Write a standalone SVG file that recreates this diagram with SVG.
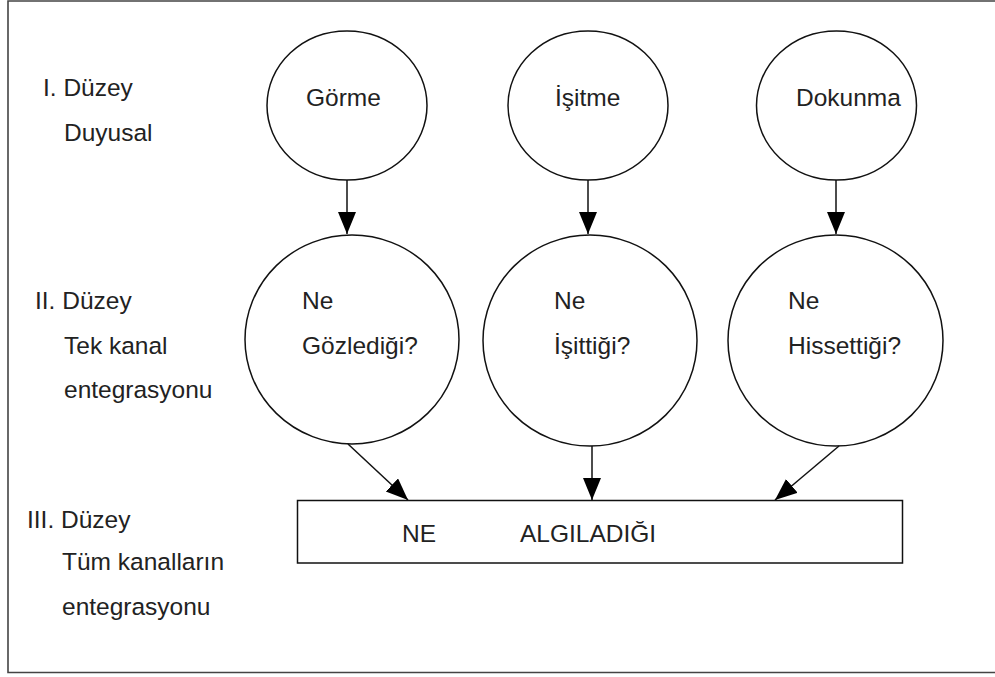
<svg xmlns="http://www.w3.org/2000/svg" width="995" height="677" viewBox="0 0 995 677">
  <style>
    .frame { fill: none; stroke: #444; stroke-width: 1.6; }
    .node { fill: #fff; stroke: #111; stroke-width: 1.5; }
    .edge { fill: none; stroke: #111; stroke-width: 1.5; }
    text { font-family: "Liberation Sans", Arial, sans-serif; font-size: 24.5px; fill: #222; }
  </style>
  <defs>
    <marker id="arrow" markerUnits="userSpaceOnUse" markerWidth="24" markerHeight="20" refX="22" refY="9" orient="auto">
      <path d="M0,0 L22,9 L0,18 Z" fill="#000"/>
    </marker>
  </defs>

  <rect width="995" height="677" fill="#fff"/>
  <!-- outer frame (open on the right) -->
  <path class="frame" d="M1000,1 H8 V672.5 H1000"/>

  <!-- level labels -->
  <g id="levels">
    <text x="43" y="96">I. Düzey</text>
    <text x="64" y="141">Duyusal</text>
    <text x="35" y="309">II. Düzey</text>
    <text x="64" y="354">Tek kanal</text>
    <text x="64" y="398">entegrasyonu</text>
    <text x="27" y="528">III. Düzey</text>
    <text x="62" y="570">Tüm kanalların</text>
    <text x="62" y="615">entegrasyonu</text>
  </g>

  <!-- level I: senses -->
  <g id="gorme">
    <ellipse class="node" cx="347" cy="105.5" rx="80" ry="74.5"/>
    <text x="306" y="106">Görme</text>
  </g>
  <g id="isitme">
    <ellipse class="node" cx="588" cy="105.5" rx="80" ry="74.5"/>
    <text x="555" y="106">İşitme</text>
  </g>
  <g id="dokunma">
    <ellipse class="node" cx="836.5" cy="105.5" rx="80" ry="74.5"/>
    <text x="796" y="106">Dokunma</text>
  </g>

  <!-- level II: single-channel integration -->
  <g id="gozledigi">
    <ellipse class="node" cx="352" cy="339.5" rx="107" ry="104.5"/>
    <text x="302" y="309">Ne</text>
    <text x="302" y="354">Gözlediği?</text>
  </g>
  <g id="isittigi">
    <ellipse class="node" cx="590" cy="340.5" rx="107" ry="105.5"/>
    <text x="554" y="309">Ne</text>
    <text x="554" y="354">İşittiği?</text>
  </g>
  <g id="hissettigi">
    <ellipse class="node" cx="835.5" cy="340.5" rx="107.5" ry="105.5"/>
    <text x="788" y="309">Ne</text>
    <text x="788" y="354">Hissettiği?</text>
  </g>

  <!-- level III: all-channel integration -->
  <g id="algiladigi">
    <rect class="node" x="297.5" y="500.5" width="605" height="62.5"/>
    <text x="402" y="542">NE</text>
    <text x="520" y="542">ALGILADIĞI</text>
  </g>

  <!-- connectors -->
  <g id="connectors">
    <line class="edge" x1="347" y1="180" x2="347" y2="234" marker-end="url(#arrow)"/>
    <line class="edge" x1="588" y1="180" x2="588" y2="234" marker-end="url(#arrow)"/>
    <line class="edge" x1="836" y1="180" x2="836" y2="234" marker-end="url(#arrow)"/>
    <line class="edge" x1="348" y1="444" x2="408" y2="500" marker-end="url(#arrow)"/>
    <line class="edge" x1="592" y1="446" x2="592" y2="500" marker-end="url(#arrow)"/>
    <line class="edge" x1="839" y1="446" x2="775" y2="500" marker-end="url(#arrow)"/>
  </g>
</svg>
